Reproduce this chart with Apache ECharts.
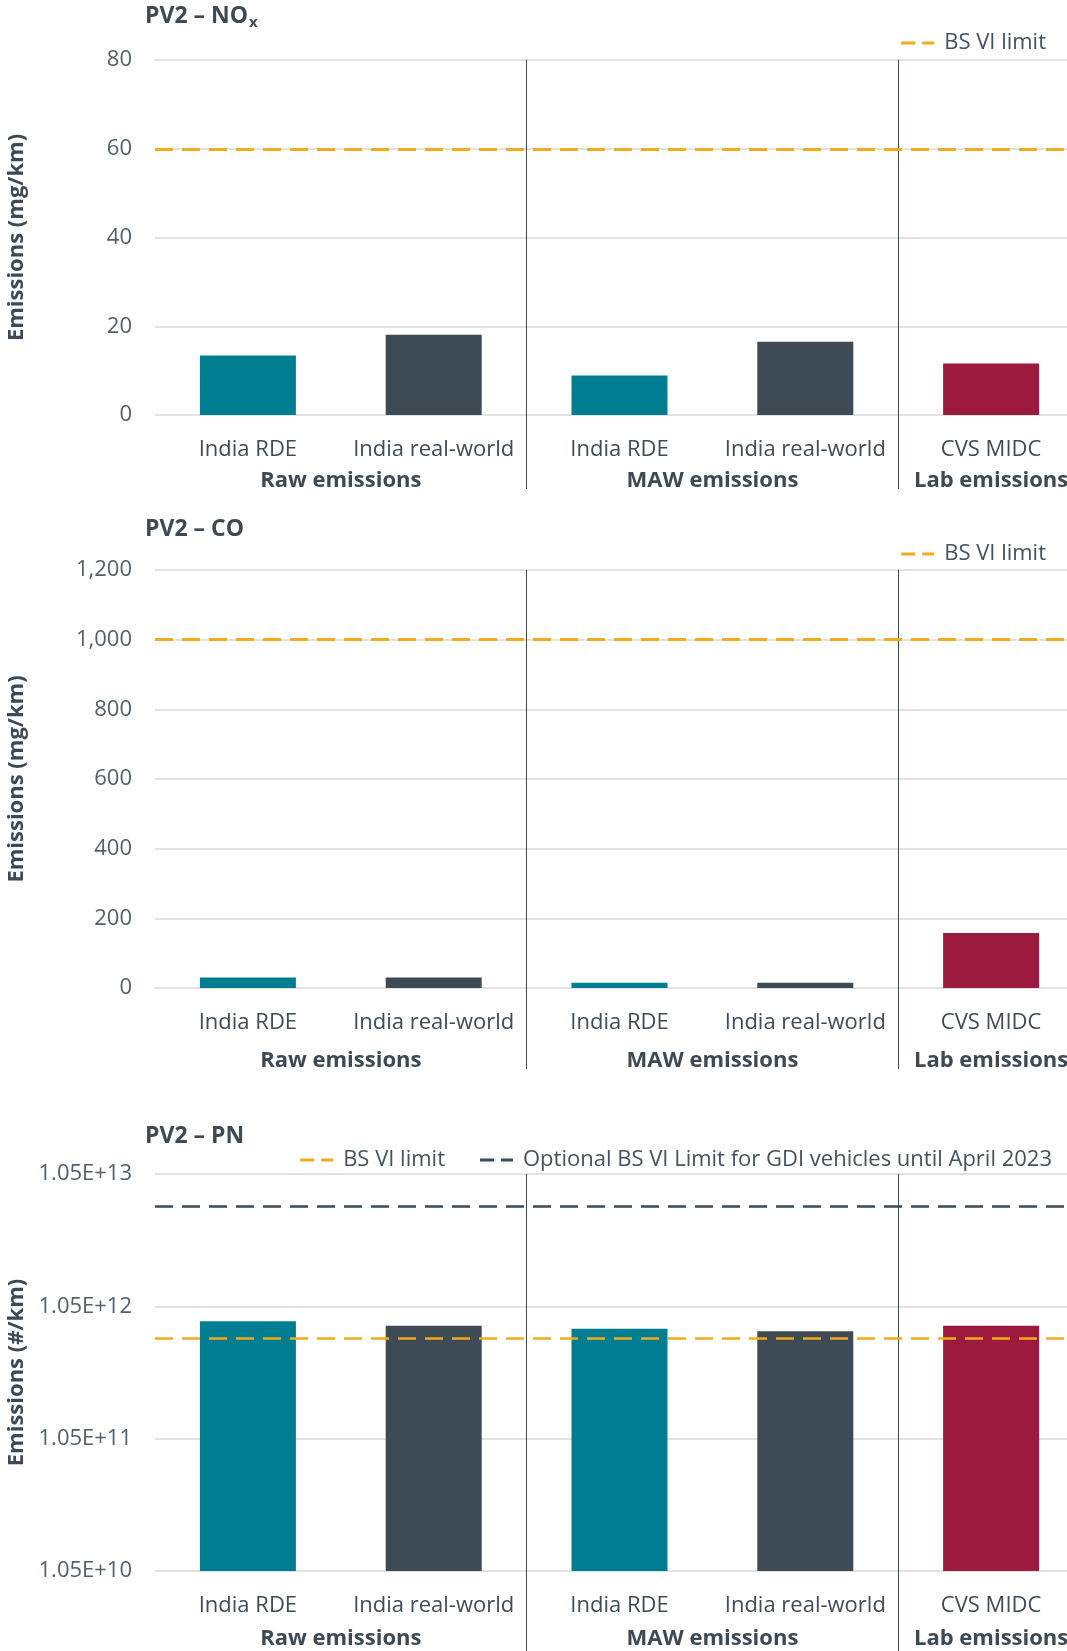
<!DOCTYPE html>
<html>
<head>
<meta charset="utf-8">
<title>PV2 emissions</title>
<script src="https://cdn.jsdelivr.net/npm/echarts@6/dist/echarts.min.js"></script>
<style>
  html, body { margin: 0; padding: 0; background: #fff; }
  #main { width: 1067px; height: 1651px; }
</style>
</head>
<body>
<div id="main"></div>
<script>
// data
const categories = ['India RDE', 'India real-world', 'India RDE', 'India real-world', 'CVS MIDC']
const groups = ['Raw emissions', 'MAW emissions', 'Lab emissions']
const groupSizes = [2, 2, 1]

const noxValues = [13.4, 18.1, 8.9, 16.5, 11.6]
const noxLimit = 60
const noxTicks = [0, 80, 20]

const coValues = [30, 30, 15, 15, 158]
const coLimit = 1000
const coTicks = [0, 1200, 200]

const pnValues = [8.1e11, 7.5e11, 7.1e11, 6.8e11, 7.5e11]
const pnLimit = 6.0e11
const pnGdiLimit = 6.0e12
const pnTickMantissa = 1.05
const pnTickExponents = [10, 13]

const FONT = 'Open Sans'
const DARK = '#3d4a54'
const ORANGE = '#f2ab1d'
const barColors = ['#007e91', '#3e4b55', '#007e91', '#3e4b55', '#9b1a3d']
// two-dash legend icon
const DASH_ICON = 'path://M0,0H14V3H0Z M21,0H33V3H21Z'

// group boundaries (category indices) and group label centres
const boundaries = []
const groupCenters = []
let acc = 0
groupSizes.forEach((s, i) => {
  groupCenters.push(acc + s / 2)
  acc += s
  if (i < groupSizes.length - 1) boundaries.push(acc)
})

const panels = [
  { title: '{t|PV2 – NO}{s|x}', titleTop: -4, top: 60, height: 355, legendTop: 27, legendRight: 16,
    sepLen: 74, groupOffset: 31, yName: 'Emissions (mg/km)',
    values: noxValues, ticks: noxTicks, limits: [{ name: 'BS VI limit', value: noxLimit, color: ORANGE }] },
  { title: '{t|PV2 – CO}', titleTop: 509, top: 570, height: 418, legendTop: 538, legendRight: 16,
    sepLen: 81, groupOffset: 38, yName: 'Emissions (mg/km)',
    values: coValues, ticks: coTicks, limits: [{ name: 'BS VI limit', value: coLimit, color: ORANGE }] },
  { title: '{t|PV2 – PN}', titleTop: 1116, top: 1174, height: 397, legendTop: 1144, legendRight: 10,
    sepLen: 80, groupOffset: 33, yName: 'Emissions (#/km)', log: true,
    values: pnValues, limits: [
      { name: 'BS VI limit', value: pnLimit, color: ORANGE, width: 2.5 },
      { name: 'Optional BS VI Limit for GDI vehicles until April 2023', value: pnGdiLimit, color: DARK, width: 2.5 }
    ] }
]

const option = {
  animation: false,
  backgroundColor: '#fff',
  textStyle: { fontFamily: FONT },
  title: [],
  legend: [],
  grid: [],
  xAxis: [],
  yAxis: [],
  series: []
}

const isBoundary = (idx) => boundaries.indexOf(idx) >= 0

panels.forEach((p, i) => {
  const scale = p.log ? pnTickMantissa : 1
  option.title.push({
    text: p.title, left: 140, top: p.titleTop,
    textStyle: {
      rich: {
        t: { fontFamily: FONT, fontSize: 23, fontWeight: 'bold', color: DARK, lineHeight: 30 },
        s: { fontFamily: FONT, fontSize: 15, fontWeight: 'bold', color: DARK, lineHeight: 30, padding: [14, 0, 0, 1] }
      }
    }
  })
  option.legend.push({
    data: p.limits.map(l => l.name), right: p.legendRight, top: p.legendTop,
    icon: DASH_ICON, itemWidth: 33, itemHeight: 3, itemGap: 35, selectedMode: false,
    textStyle: { fontFamily: FONT, fontSize: 22, color: '#46525c', padding: [0, 0, 0, 5] }
  })
  option.grid.push({ left: 155, right: -17, top: p.top, height: p.height, outerBoundsMode: 'none' })
  option.xAxis.push({
    type: 'category', gridIndex: i, data: categories,
    axisLine: { show: false },
    axisTick: { show: true, length: p.sepLen, interval: isBoundary, lineStyle: { color: DARK, width: 1 } },
    splitLine: { show: true, interval: isBoundary, lineStyle: { color: DARK, width: 1 } },
    axisLabel: { interval: 0, margin: 24, fontFamily: FONT, fontSize: 22, color: '#3f4b55' }
  })
  option.xAxis.push({
    type: 'value', gridIndex: i, min: 0, max: categories.length, interval: 0.5,
    position: 'bottom', offset: p.groupOffset,
    axisLine: { show: false }, axisTick: { show: false }, splitLine: { show: false },
    axisLabel: {
      margin: 24, fontFamily: FONT, fontSize: 22, fontWeight: 'bold', color: DARK,
      formatter: (v) => {
        const k = groupCenters.indexOf(v)
        return k >= 0 ? groups[k] : ''
      }
    }
  })
  const yAxis = {
    gridIndex: i,
    name: p.yName, nameLocation: 'middle', nameGap: 127,
    nameTextStyle: { fontFamily: FONT, fontSize: 22, fontWeight: 'bold', color: DARK },
    axisLine: { show: false }, axisTick: { show: false },
    splitLine: { show: true, lineStyle: { color: '#d9d9d9', width: 1.5 } },
    axisLabel: { margin: 23, fontFamily: FONT, fontSize: 22, color: '#535f69' }
  }
  if (p.log) {
    Object.assign(yAxis, {
      type: 'log', logBase: 10,
      min: Math.pow(10, pnTickExponents[0]), max: Math.pow(10, pnTickExponents[1]),
      startValue: Math.pow(10, pnTickExponents[0])
    })
    yAxis.axisLabel.formatter = (v) => pnTickMantissa.toFixed(2) + 'E+' + Math.round(Math.log10(v))
  } else {
    Object.assign(yAxis, { type: 'value', min: p.ticks[0], max: p.ticks[1], interval: p.ticks[2] })
  }
  option.yAxis.push(yAxis)

  option.series.push({
    type: 'bar', xAxisIndex: 2 * i, yAxisIndex: i, barWidth: 96, clip: true,
    data: p.values.map((v, k) => ({ value: v / scale, itemStyle: { color: barColors[k] } }))
  })
  p.limits.forEach(l => {
    option.series.push({
      type: 'line', name: l.name, xAxisIndex: 2 * i, yAxisIndex: i, data: [],
      symbol: 'none', itemStyle: { color: l.color },
      lineStyle: { color: l.color, width: 3, type: [13, 7] },
      markLine: {
        silent: true, symbol: ['none', 'none'], label: { show: false },
        lineStyle: { color: l.color, width: l.width || 3, type: [18, 9] },
        data: [{ yAxis: l.value / scale }]
      }
    })
  })
})

const chart = echarts.init(document.getElementById('main'))
chart.setOption(option)
</script>
</body>
</html>
